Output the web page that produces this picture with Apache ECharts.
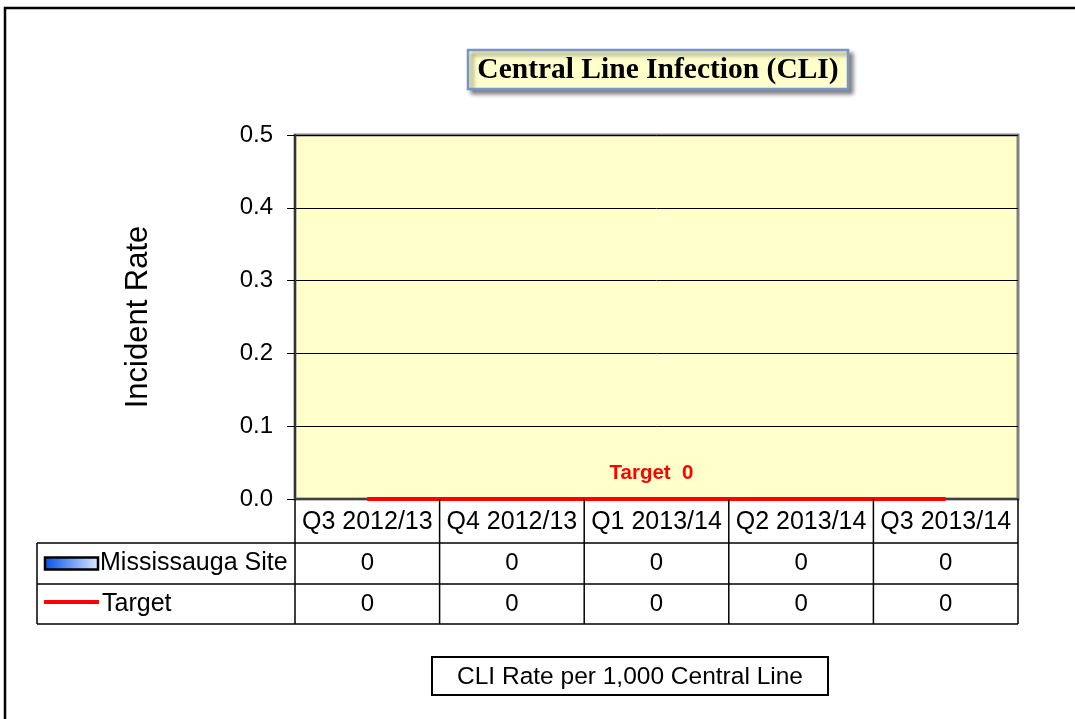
<!DOCTYPE html>
<html>
<head>
<meta charset="utf-8">
<script src="https://cdn.jsdelivr.net/npm/echarts@6/dist/echarts.min.js"></script>
<style>
html,body{margin:0;padding:0;background:#fff;}
#chart{width:1075px;height:719px;}
</style>
</head>
<body>
<div id="chart"></div>
<script>
const titleText = 'Central Line Infection (CLI)';
const categories = ['Q3 2012/13', 'Q4 2012/13', 'Q1 2013/14', 'Q2 2013/14', 'Q3 2013/14'];
const siteName = 'Mississauga Site';
const siteValues = [0, 0, 0, 0, 0];
const targetName = 'Target';
const targetValues = [0, 0, 0, 0, 0];
const yTicks = [0, 0.1, 0.2, 0.3, 0.4, 0.5];
const yAxisName = 'Incident Rate';
const targetLabel = 'Target  0';
const footnote = 'CLI Rate per 1,000 Central Line';

const FONT = '"Liberation Sans", Arial, sans-serif';
const chart = echarts.init(document.getElementById('chart'), null, {renderer: 'canvas'});

const option = {
  animation: false,
  backgroundColor: '#ffffff',
  grid: {
    left: 295, right: 57, top: 135, bottom: 220,
    show: true, backgroundColor: '#FFFFCC', borderColor: '#808080', borderWidth: 3
  },
  xAxis: {
    type: 'category',
    data: categories,
    boundaryGap: true,
    axisLine: {show: true, lineStyle: {color: '#404040', width: 2}},
    axisTick: {show: false},
    axisLabel: {fontFamily: FONT, fontSize: 25, color: '#000', margin: 11, interval: 0}
  },
  yAxis: {
    type: 'value',
    min: yTicks[0], max: yTicks[yTicks.length - 1], interval: 0.1,
    name: yAxisName, nameLocation: 'middle', nameGap: 141, nameRotate: 90,
    nameTextStyle: {fontFamily: FONT, fontSize: 31, color: '#000'},
    axisLine: {show: true, lineStyle: {color: '#333', width: 2}},
    axisTick: {show: true, inside: false, length: 8, lineStyle: {color: '#000', width: 1}},
    axisLabel: {fontFamily: FONT, fontSize: 24, color: '#000', margin: 22,
      formatter: v => v.toFixed(1)},
    splitLine: {show: true, lineStyle: {color: '#000', width: 1}}
  },
  series: [
    {
      name: siteName, type: 'bar', data: siteValues, barWidth: '50%',
      itemStyle: {color: new echarts.graphic.LinearGradient(0, 0, 1, 0, [
        {offset: 0, color: '#0050E0'}, {offset: 1, color: '#DDE8FF'}]),
        borderColor: '#000', borderWidth: 0}
    },
    {
      name: targetName, type: 'line', symbol: 'circle', symbolSize: 1, showSymbol: true,
      itemStyle: {color: '#FF0000'},
      data: targetValues.map((v, i) => i === 2 ? {value: v, label: {
        show: true, position: 'top', distance: 15, formatter: targetLabel,
        fontFamily: FONT, fontSize: 20.5, fontWeight: 'bold', color: '#FF0000', offset: [-5, 0]}} : v),
      lineStyle: {color: '#FF0000', width: 4},
      z: 5
    }
  ]
};
chart.setOption(option);

// Build data table and decorations from axis positions
const y0 = chart.convertToPixel({yAxisIndex: 0}, 0);
const centers = categories.map((c, i) => chart.convertToPixel({xAxisIndex: 0}, i));
const band = centers.length > 1 ? centers[1] - centers[0] : 145;
const bounds = [centers[0] - band / 2].concat(centers.map(c => c + band / 2));
const tableLeft = 37;
const rowTops = [y0, 543, 584, 624];
const g = [];
// outer frame
g.push({type: 'rect', shape: {x: 5, y: 8, width: 1100, height: 730},
  style: {fill: 'none', stroke: '#000', lineWidth: 2.5}, z: 1});
// vertical table lines
bounds.forEach(x => g.push({type: 'line', shape: {x1: x, y1: rowTops[0], x2: x, y2: rowTops[3]},
  style: {stroke: '#000', lineWidth: 1.5}, z: 10}));
// left border
g.push({type: 'line', shape: {x1: tableLeft, y1: rowTops[1], x2: tableLeft, y2: rowTops[3]},
  style: {stroke: '#000', lineWidth: 1.5}, z: 10});
// horizontal lines
[rowTops[1], rowTops[2], rowTops[3]].forEach(y => g.push({type: 'line',
  shape: {x1: tableLeft, y1: y, x2: bounds[bounds.length - 1], y2: y},
  style: {stroke: '#000', lineWidth: 1.5}, z: 10}));
// values
const rows = [siteValues, targetValues];
rows.forEach((vals, r) => {
  const cy = (rowTops[r + 1] + rowTops[r + 2]) / 2;
  vals.forEach((v, i) => g.push({type: 'text', x: centers[i], y: cy,
    style: {text: String(v), font: '24px ' + FONT, fill: '#000', textAlign: 'center', textVerticalAlign: 'middle'}, z: 10}));
});
// legend keys
const r1 = (rowTops[1] + rowTops[2]) / 2, r2 = (rowTops[2] + rowTops[3]) / 2;
g.push({type: 'rect', shape: {x: 45, y: r1 - 6, width: 53, height: 12},
  style: {fill: new echarts.graphic.LinearGradient(0, 0, 1, 0, [
    {offset: 0, color: '#0050E8'}, {offset: 1, color: '#E0EAFF'}]), stroke: '#000', lineWidth: 2.5}, z: 10});
g.push({type: 'line', shape: {x1: 44, y1: r2 - 2, x2: 99, y2: r2 - 2},
  style: {stroke: '#FF0000', lineWidth: 4}, z: 10});
g.push({type: 'text', x: 100, y: r1, style: {text: siteName, font: '25px ' + FONT, fill: '#000', textVerticalAlign: 'middle'}, z: 10});
g.push({type: 'text', x: 102, y: r2, style: {text: targetName, font: '25px ' + FONT, fill: '#000', textVerticalAlign: 'middle'}, z: 10});
// title box
g.push({type: 'rect', shape: {x: 468, y: 50, width: 380, height: 39},
  style: {fill: '#FFFFCC', stroke: '#7895C8', lineWidth: 2.5,
    shadowBlur: 4, shadowOffsetX: 4, shadowOffsetY: 4, shadowColor: 'rgba(0,0,0,0.45)'}, z: 10});
g.push({type: 'text', x: 658, y: 70, style: {text: titleText,
  font: 'bold 29.5px "Liberation Serif", "Times New Roman", serif', fill: '#000', textAlign: 'center', textVerticalAlign: 'middle'}, z: 11});
// footnote box
g.push({type: 'rect', shape: {x: 432, y: 657, width: 396, height: 38},
  style: {fill: '#fff', stroke: '#000', lineWidth: 2}, z: 10});
g.push({type: 'text', x: 630, y: 677, style: {text: footnote, font: '24.5px ' + FONT, fill: '#000', textAlign: 'center', textVerticalAlign: 'middle'}, z: 11});

chart.setOption({graphic: g});
</script>
</body>
</html>
